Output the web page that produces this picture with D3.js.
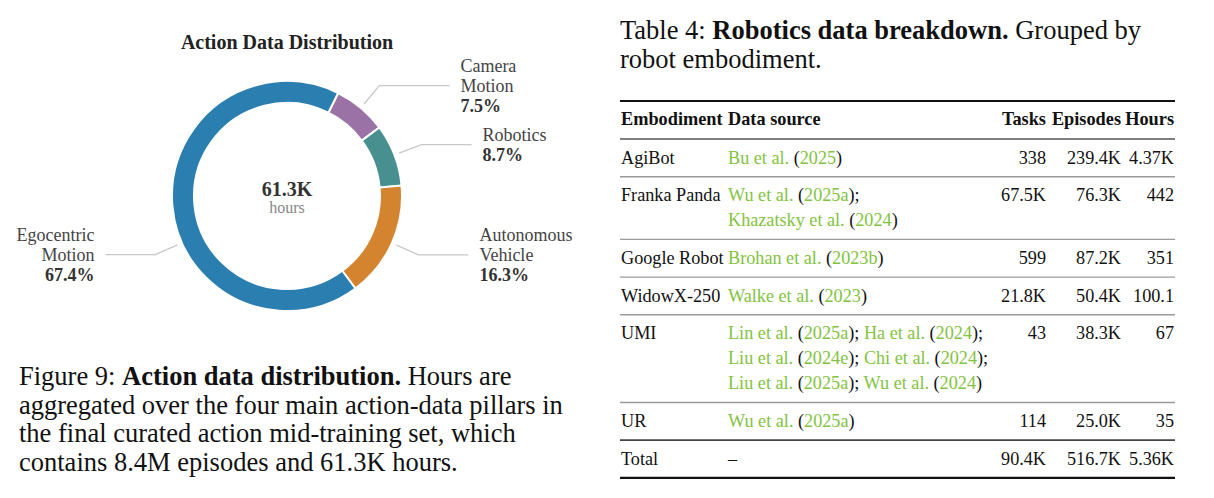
<!DOCTYPE html>
<meta charset="utf-8">
<style>
body { margin: 0; background: #fff; }
text { font-family: "Liberation Serif", serif; }
.cite { fill: #82c341; }
</style>
<svg width="1214" height="498"></svg>
<script src="https://d3js.org/d3.v7.min.js"></script>
<script>

// donut data (share of hours, %)
var categories = ["Camera Motion", "Robotics", "Autonomous Vehicle", "Egocentric Motion"];
var shares = [7.5, 8.7, 16.3, 67.4];
var totalHours = "61.3K";
var colors = ["#9b72a6", "#47908f", "#d4842f", "#2a7fb0"];

// table data
var embodiments = ["AgiBot", "Franka Panda", "Google Robot", "WidowX-250", "UMI", "UR", "Total"];
var sources = [
  [[["Bu et al.", "2025"]]],
  [[["Wu et al.", "2025a"]], [["Khazatsky et al.", "2024"]]],
  [[["Brohan et al.", "2023b"]]],
  [[["Walke et al.", "2023"]]],
  [[["Lin et al.", "2025a"], ["Ha et al.", "2024"]],
   [["Liu et al.", "2024e"], ["Chi et al.", "2024"]],
   [["Liu et al.", "2025a"], ["Wu et al.", "2024"]]],
  [[["Wu et al.", "2025a"]]],
  []
];
var tasks = ["338", "67.5K", "599", "21.8K", "43", "114", "90.4K"];
var episodes = ["239.4K", "76.3K", "87.2K", "50.4K", "38.3K", "25.0K", "516.7K"];
var hours = ["4.37K", "442", "351", "100.1", "67", "35", "5.36K"];
var headers = ["Embodiment", "Data source", "Tasks", "Episodes", "Hours"];

var figCaption = [
  [["Figure 9: ", false], ["Action data distribution.", true], [" Hours are", false]],
  [["aggregated over the four main action-data pillars in", false]],
  [["the final curated action mid-training set, which", false]],
  [["contains 8.4M episodes and 61.3K hours.", false]]
];
var tabCaption = [
  [["Table 4: ", false], ["Robotics data breakdown.", true], [" Grouped by", false]],
  [["robot embodiment.", false]]
];

var svg = d3.select("svg");
svg.append("rect").attr("width", 1214).attr("height", 498).attr("fill", "#fff");

function caption(lines, x, y0, lh) {
  var t = svg.append("g");
  lines.forEach(function(segs, i) {
    var tx = t.append("text").attr("x", x).attr("y", y0 + i * lh)
      .attr("font-size", 26.5).attr("fill", "#111");
    segs.forEach(function(s) {
      tx.append("tspan").text(s[0]).attr("font-weight", s[1] ? "bold" : null);
    });
  });
}

// ---------- donut ----------
var cx = 287, cy = 196, rOuter = 115, rInner = 93;
var start = 26.4 * Math.PI / 180;
var pie = d3.pie().sort(null).value(function(d) { return d; })
  .startAngle(start).endAngle(start + 2 * Math.PI);
var arc = d3.arc().innerRadius(rInner).outerRadius(rOuter);
var arcs = pie(shares);

var g = svg.append("g").attr("transform", "translate(" + cx + "," + cy + ")");

svg.append("text").attr("x", cx).attr("y", 49).attr("text-anchor", "middle")
  .attr("font-size", 20).attr("font-weight", "bold").attr("fill", "#222")
  .text("Action Data Distribution");

g.selectAll("path.slice").data(arcs).enter().append("path")
  .attr("class", "slice")
  .attr("d", arc)
  .attr("fill", function(d, i) { return colors[i]; })
  .attr("stroke", "#fff").attr("stroke-width", 2);

g.append("text").attr("y", 0).attr("text-anchor", "middle")
  .attr("font-size", 20).attr("font-weight", "bold").attr("fill", "#333")
  .text(totalHours);
g.append("text").attr("y", 17).attr("text-anchor", "middle")
  .attr("font-size", 16).attr("fill", "#888").text("hours");

// label tweaks (degrees clockwise from top, horizontal run)
var tweak = { "Egocentric Motion": { angle: 246 }, "Camera Motion": { run: 70 } };
var arcIn = d3.arc().innerRadius(120).outerRadius(120);
var arcMid = d3.arc().innerRadius(144).outerRadius(144);

arcs.forEach(function(d, i) {
  var name = categories[i], tw = tweak[name] || {};
  var a = tw.angle != null ? tw.angle * Math.PI / 180 : (d.startAngle + d.endAngle) / 2;
  var p0 = arcIn.centroid({ startAngle: a, endAngle: a });
  var p1 = arcMid.centroid({ startAngle: a, endAngle: a });
  var right = Math.sin(a) > 0;
  var run = tw.run || 50;
  var x2 = p1[0] + (right ? run : -run);
  g.append("polyline")
    .attr("points", [p0, p1, [x2, p1[1]]].map(function(p) { return p.join(","); }).join(" "))
    .attr("fill", "none").attr("stroke", "#c8c8c8").attr("stroke-width", 1.3);

  var lines = name.split(" ").concat([shares[i].toFixed(1) + "%"]);
  var n = lines.length;
  var tx = right ? x2 + 11 : x2 - 11;
  lines.forEach(function(l, j) {
    g.append("text")
      .attr("x", tx)
      .attr("y", p1[1] + 6 + (j - (n - 1) / 2) * 20)
      .attr("text-anchor", right ? "start" : "end")
      .attr("font-size", 18)
      .attr("font-weight", j === n - 1 ? "bold" : null)
      .attr("fill", j === n - 1 ? "#333" : "#444")
      .text(l);
  });
});

caption(figCaption, 19, 385, 28.5);

// ---------- table ----------
caption(tabCaption, 620, 39, 28.5);

var colX = d3.scaleOrdinal().domain(headers).range([621, 728, 1046, 1121, 1174]);
var anchor = d3.scaleOrdinal().domain(headers).range(["start", "start", "end", "end", "end"]);
var tableLeft = 620, tableRight = 1175;
var topRule = 101, headRule = 139, lineH = 25, rowPad = 12.7;
var bodySize = 18.2;

// cumulative row tops from line counts
var nLines = sources.map(function(s) { return Math.max(1, s.length); });
var rowTop = [headRule];
nLines.forEach(function(n, i) { rowTop.push(rowTop[i] + rowPad + n * lineH); });

var tg = svg.append("g");

function rule(y, w, c) {
  tg.append("line").attr("x1", tableLeft).attr("x2", tableRight)
    .attr("y1", y).attr("y2", y).attr("stroke", c).attr("stroke-width", w);
}

headers.forEach(function(h) {
  tg.append("text").attr("x", colX(h)).attr("y", 125)
    .attr("text-anchor", anchor(h)).attr("font-size", 18.3).attr("font-weight", "bold")
    .attr("fill", "#111").text(h);
});

embodiments.forEach(function(e, i) {
  var base = rowTop[i] + 24.5;
  var row = [e, null, tasks[i], episodes[i], hours[i]];
  row.forEach(function(v, k) {
    if (v == null) return;
    tg.append("text").attr("x", colX(headers[k])).attr("y", base)
      .attr("text-anchor", anchor(headers[k])).attr("font-size", bodySize)
      .attr("fill", "#111").text(v);
  });
  var src = sources[i];
  if (!src.length) {
    tg.append("text").attr("x", colX(headers[1])).attr("y", base)
      .attr("font-size", bodySize).attr("fill", "#111").text("\u2013");
  }
  var count = 0, total = d3.sum(src, function(l) { return l.length; });
  src.forEach(function(line, j) {
    var tx = tg.append("text").attr("x", colX(headers[1])).attr("y", base + j * lineH)
      .attr("font-size", bodySize).attr("fill", "#111");
    line.forEach(function(c, m) {
      count++;
      if (m > 0) tx.append("tspan").text(" ");
      tx.append("tspan").attr("class", "cite").text(c[0] + " ");
      tx.append("tspan").text("(");
      tx.append("tspan").attr("class", "cite").text(c[1]);
      tx.append("tspan").text(count < total ? ");" : ")");
    });
  });
});

rule(topRule, 2.2, "#111");
rule(headRule, 1.4, "#555");
rowTop.slice(1, -2).forEach(function(y) { rule(y, 1.4, "#9a9a9a"); });
rule(rowTop[rowTop.length - 2], 1.7, "#444");
rule(rowTop[rowTop.length - 1], 2.2, "#111");

</script>
